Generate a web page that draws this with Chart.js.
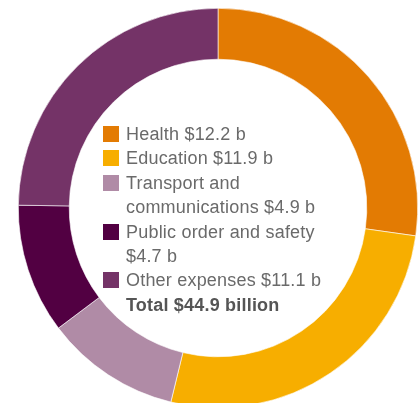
<!DOCTYPE html>
<html>
<head>
<meta charset="utf-8">
<script src="https://cdn.jsdelivr.net/npm/chart.js@4"></script>
<style>
html, body { margin: 0; padding: 0; background: #fff; overflow: hidden; }
#wrap { position: relative; width: 420px; height: 403px; overflow: hidden; }
#box { position: absolute; left: 0; top: 0; width: 436px; height: 416px; }
#legend {
  position: absolute; left: 103px; top: 122px;
  font-family: "Liberation Sans", Arial, sans-serif; font-size: 18px;
  color: #6a6a6a; line-height: 24.4px; letter-spacing: 0.2px;
}
#legend .row { position: relative; padding-left: 23px; white-space: pre-line; }
#legend .sw { position: absolute; left: 0; top: 4px; width: 16px; height: 16px; }
#legend .total { padding-left: 23px; font-weight: bold; color: #555; }
</style>
</head>
<body>
<div id="wrap">
  <div id="box"><canvas id="c"></canvas></div>
  <div id="legend"></div>
</div>
<script>
// categories and values ($ billion)
let categories = ['Health', 'Education', 'Transport and\ncommunications', 'Public order and safety\n', 'Other expenses']
let values = [12.2, 11.9, 4.9, 4.7, 11.1]
let colors = ['#e37b03', '#f7ae00', '#b08ba6', '#520042', '#743367']
let totalLabel = 'Total $44.9 billion'

let chart = new Chart(document.getElementById('c'), {
    type: 'doughnut',
    data: {
        labels: categories,
        datasets: [{
            data: values,
            backgroundColor: colors,
            borderColor: '#ffffff',
            borderWidth: 0.6
        }]
    },
    options: {
        responsive: true,
        maintainAspectRatio: false,
        animation: false,
        cutout: '74.5%',
        layout: { padding: 8 },
        plugins: {
            legend: { display: false },
            tooltip: { enabled: false }
        }
    }
})

// legend in the middle
let legend = document.getElementById('legend')
for (let i = 0; i < categories.length; i++) {
    let row = document.createElement('div')
    row.className = 'row'
    let sw = document.createElement('span')
    sw.className = 'sw'
    sw.style.background = colors[i]
    row.appendChild(sw)
    row.appendChild(document.createTextNode(categories[i] + ' $' + values[i].toFixed(1) + ' b'))
    legend.appendChild(row)
}
let tot = document.createElement('div')
tot.className = 'total'
tot.textContent = totalLabel
legend.appendChild(tot)
</script>
</body>
</html>
